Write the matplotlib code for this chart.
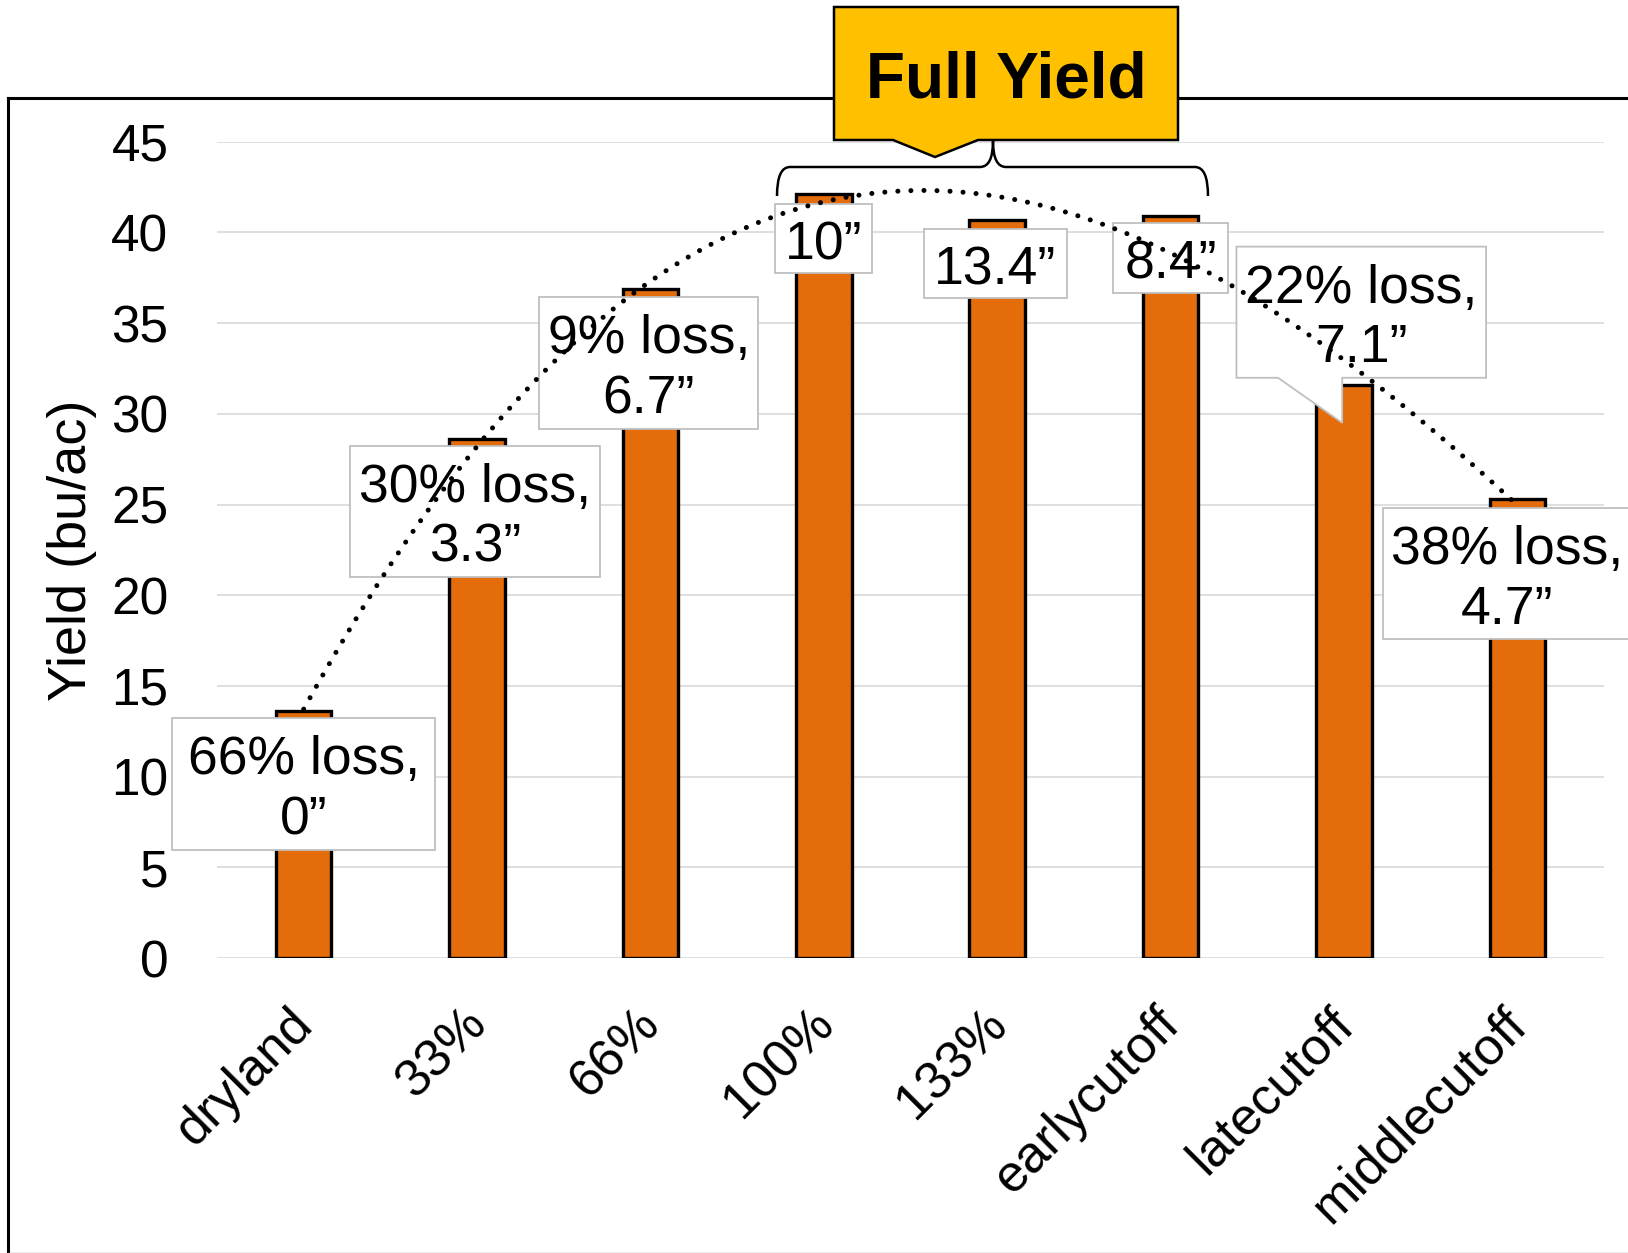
import numpy as np
import matplotlib.pyplot as plt
from matplotlib.patches import Polygon, Rectangle, PathPatch
from matplotlib.path import Path
from matplotlib.lines import Line2D
from matplotlib.transforms import ScaledTranslation

plt.rcParams['font.family'] = ['Liberation Sans', 'DejaVu Sans']

# data
categories = ["dryland", "33%", "66%", "100%", "133%", "earlycutoff", "latecutoff", "middlecutoff"]
yields = [13.6, 28.6, 36.9, 42.1, 40.7, 40.9, 31.6, 25.3]
callout_texts = ["66% loss,\n0\u201d", "30% loss,\n3.3\u201d", "9% loss,\n6.7\u201d", "10\u201d",
                 "13.4\u201d", "8.4\u201d", "22% loss,\n7.1\u201d", "38% loss,\n4.7\u201d"]

# callout box layout (centre x, centre y, width, height) in data units
callout_boxes = [(0.0, 9.6, 1.52, 7.28), (0.99, 24.6, 1.44, 7.23), (1.99, 32.8, 1.26, 7.23),
                 (3.0, 39.65, 0.56, 3.81), (3.99, 38.27, 0.82, 3.81), (5.0, 38.6, 0.66, 3.86),
                 (6.1, 35.6, 1.44, 7.23), (6.94, 21.2, 1.43, 7.23)]

W, H = 1628, 1253
fig = plt.figure(figsize=(W / 100, H / 100), dpi=100)
ax = fig.add_axes([217 / W, 1 - 958 / H, 1387 / W, (958 - 141.7) / H])


def px(x, y):
    return (x / W, 1 - y / H)


x = np.arange(len(categories))
ax.bar(x, yields, width=0.32, color="#E46C0A", edgecolor="black", linewidth=2.4, zorder=2)

ax.set_xlim(-0.5, 7.5)
ax.set_ylim(0, 45)
ax.set_yticks(range(0, 46, 5))
ax.yaxis.grid(True, color="#D9D9D9", linewidth=1.2)
ax.set_axisbelow(True)
for s in ax.spines.values():
    s.set_visible(False)
ax.tick_params(axis="y", length=0, pad=35, labelsize=37)
ax.tick_params(axis="x", length=0, pad=42, labelsize=37.5)
ax.set_xticks(x)
ax.set_xticklabels(categories, rotation=45, ha="right", va="center", rotation_mode="anchor")
for lab in ax.get_xticklabels():
    lab.set_transform(lab.get_transform() + ScaledTranslation(0.02, 0, fig.dpi_scale_trans))
ax.set_ylabel("Yield (bu/ac)", fontsize=39)
ax.yaxis.set_label_coords(-0.0865, 0.5)

# polynomial trendline (order 3)
coef = np.polyfit(x, yields, 3)
xs = np.linspace(0, 7, 300)
ax.plot(xs, np.polyval(coef, xs), color="black", linewidth=3.6,
        linestyle=(0, (0.01, 2.6)), dash_capstyle="round", zorder=6)

# callouts
for i, (txt, (cx, cy, bw, bh)) in enumerate(zip(callout_texts, callout_boxes)):
    if i == 6:
        x0, x1, y0, y1 = cx - bw / 2, cx + bw / 2, cy - bh / 2, cy + bh / 2
        shape = [(x0, y0), (x0, y1), (x1, y1), (x1, y0), (5.99, y0), (5.99, 29.5), (5.62, y0)]
        ax.add_patch(Polygon(shape, closed=True, facecolor="white", edgecolor="#BFBFBF",
                             linewidth=1.3, zorder=4, clip_on=False))
    else:
        ax.add_patch(Rectangle((cx - bw / 2, cy - bh / 2), bw, bh, facecolor="white",
                               edgecolor="#BFBFBF", linewidth=1.3, zorder=4, clip_on=False))
    ax.text(cx, cy - 0.35, txt, ha="center", va="center", fontsize=38.5, linespacing=1.25,
            zorder=5, clip_on=False)

# outer frame
fig.add_artist(Line2D([8 / W, 8 / W], [1 - 98 / H, 0], color="black", linewidth=2.2, zorder=1))
fig.add_artist(Line2D([8 / W, 1], [1 - 98 / H, 1 - 98 / H], color="black", linewidth=2.2, zorder=1))
fig.add_artist(Line2D([8 / W, 1], [0.5 / H, 0.5 / H], color="#A0A0A0", linewidth=1.0, zorder=1))

# brace over the full-yield bars
brace = Path([px(777, 196), px(777, 167), px(790, 167), px(980, 167), px(993, 167), px(993, 141),
              px(993, 141), px(993, 167), px(1006, 167), px(1195, 167), px(1208, 167), px(1208, 196)],
             [Path.MOVETO, Path.CURVE3, Path.CURVE3, Path.LINETO, Path.CURVE3, Path.CURVE3,
              Path.MOVETO, Path.CURVE3, Path.CURVE3, Path.LINETO, Path.CURVE3, Path.CURVE3])
fig.add_artist(PathPatch(brace, facecolor="none", edgecolor="black", linewidth=1.8,
                         transform=fig.transFigure, zorder=8))

# "Full Yield" banner
banner = [px(834, 7), px(1178, 7), px(1178, 140), px(978, 140), px(935, 157), px(893, 140), px(834, 140)]
fig.add_artist(Polygon(banner, closed=True, facecolor="#FFC000", edgecolor="black",
                       linewidth=1.8, transform=fig.transFigure, zorder=9))
fig.text(1006 / W, 1 - 80 / H, "Full Yield", ha="center", va="center", fontsize=46,
         fontweight="bold", zorder=10)

fig.savefig("out.png", dpi=100)
